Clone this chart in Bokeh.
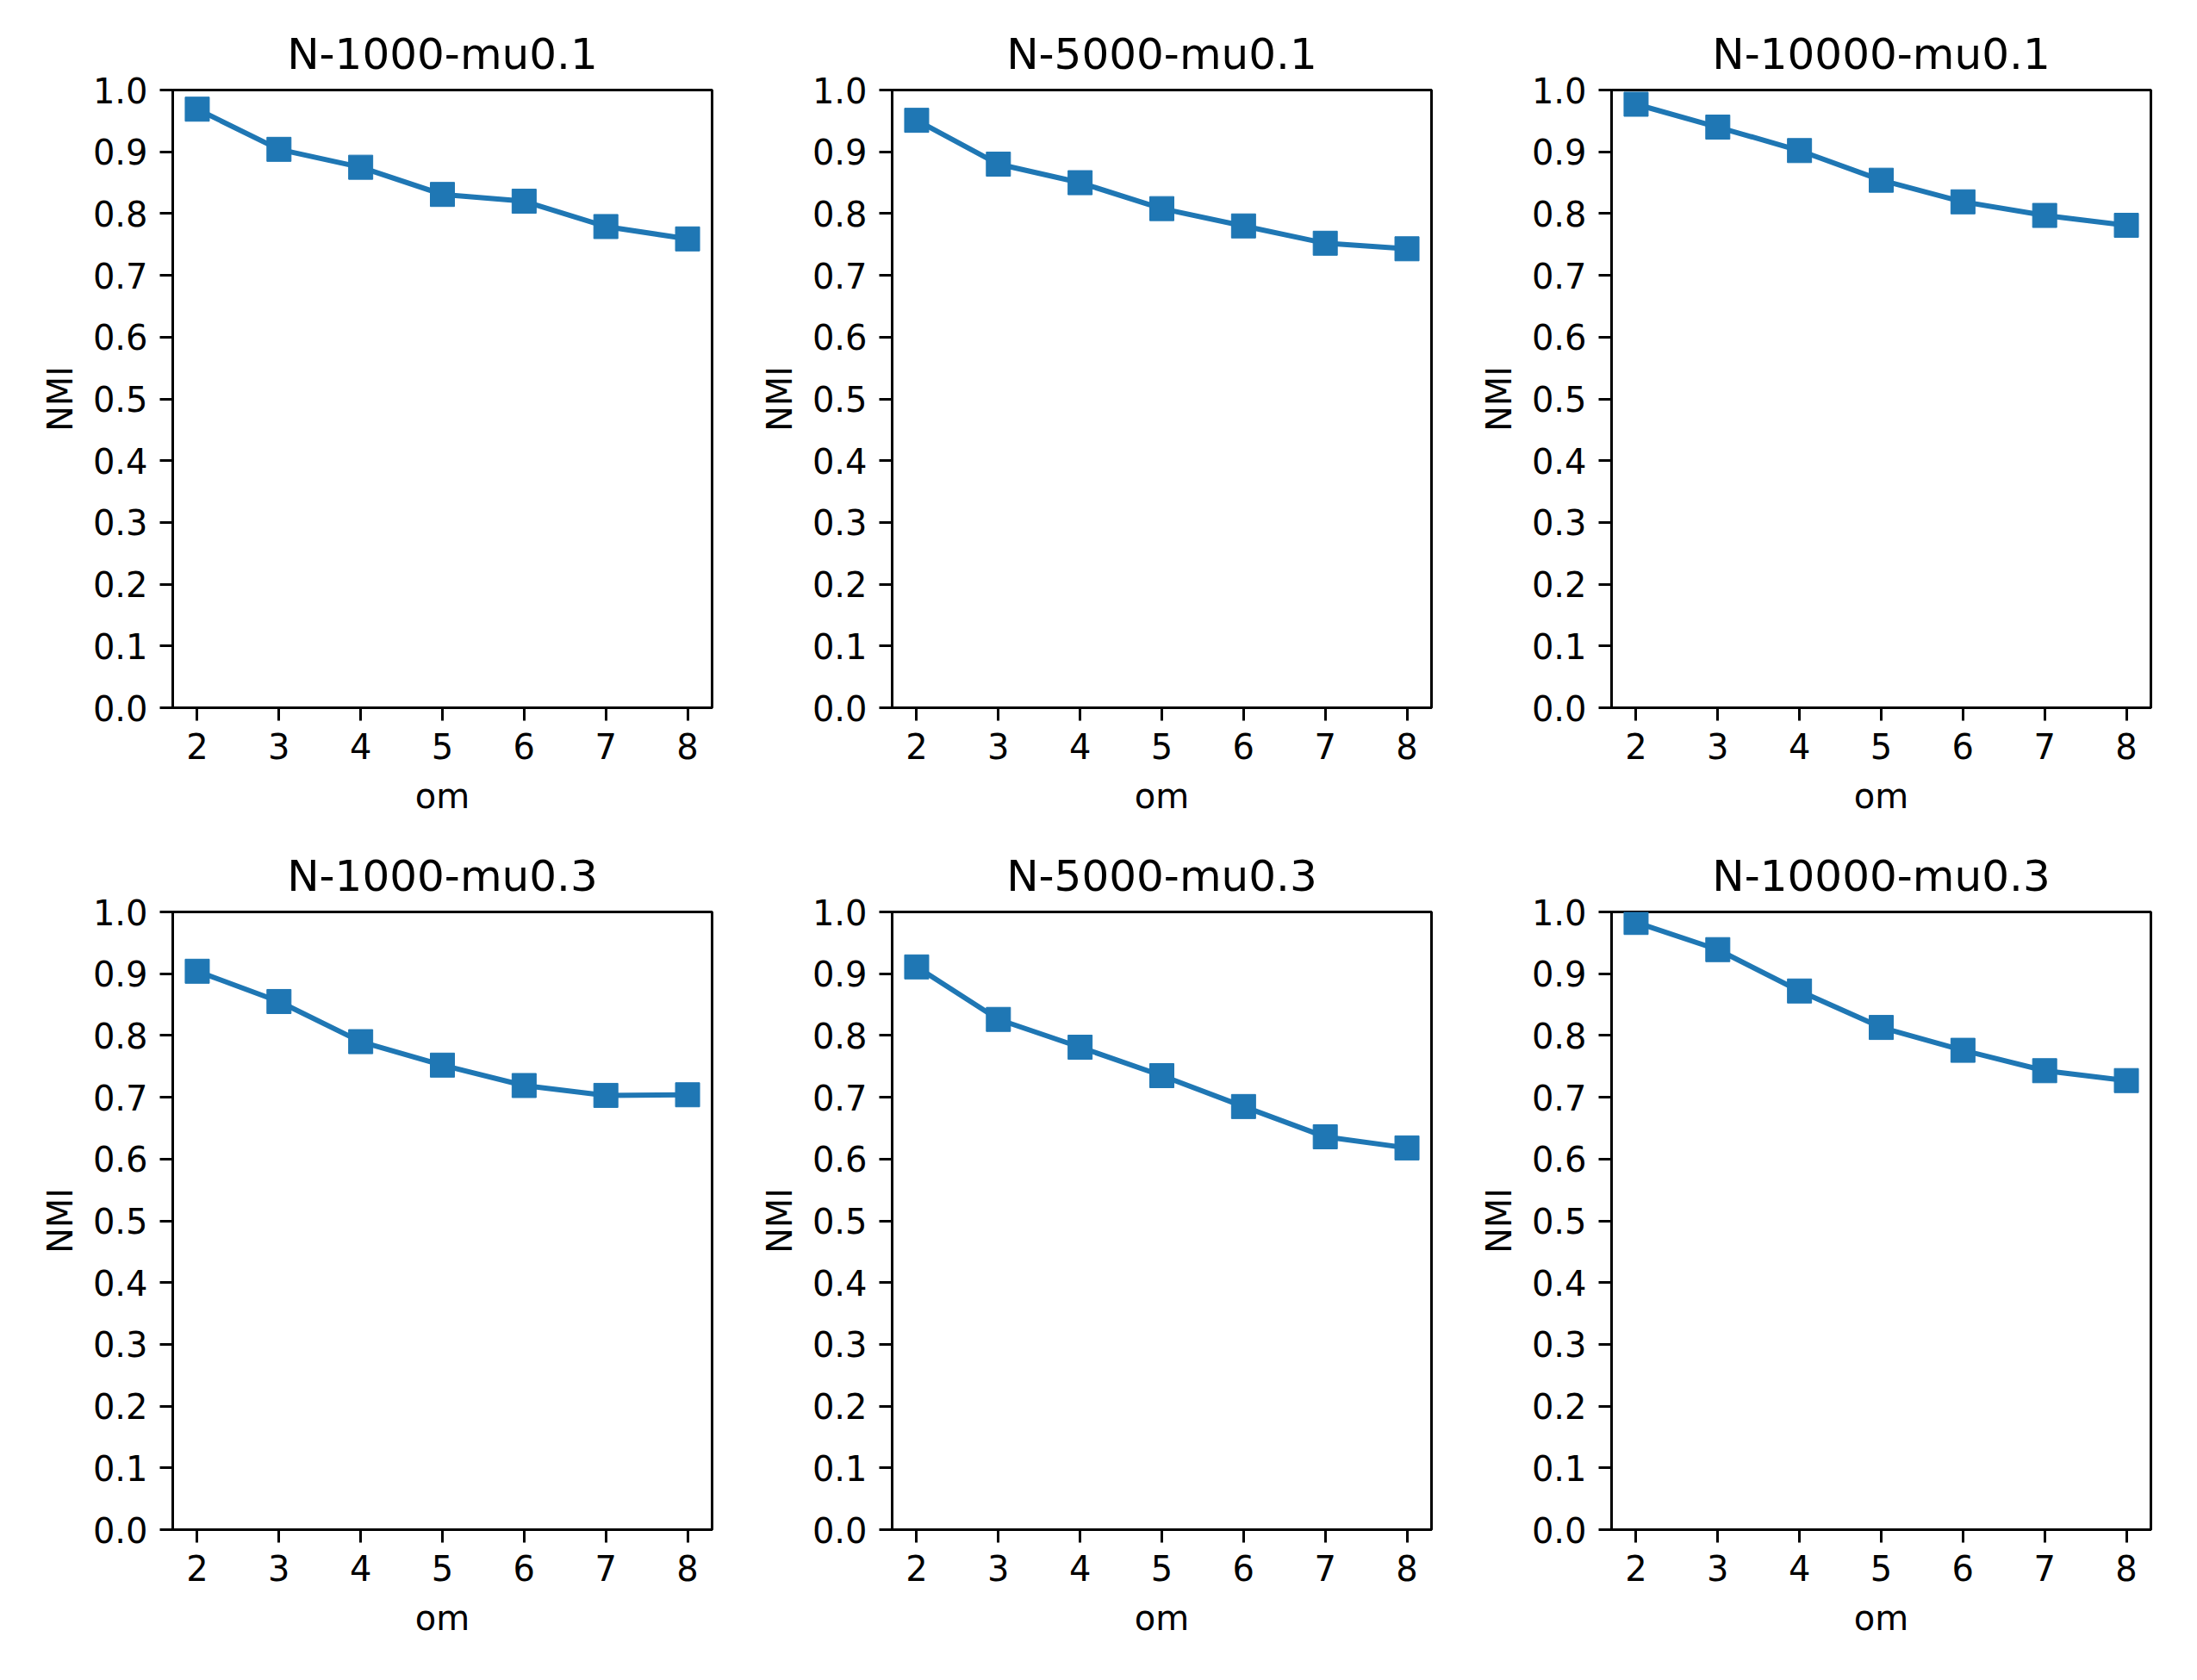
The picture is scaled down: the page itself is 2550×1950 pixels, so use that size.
from bokeh.plotting import figure
from bokeh.layouts import column, row
from bokeh.models import FixedTicker, Range1d, PrintfTickFormatter
from bokeh.embed import file_html
from bokeh.resources import INLINE

om = [2, 3, 4, 5, 6, 7, 8]
titles = ["N-1000-mu0.1", "N-5000-mu0.1", "N-10000-mu0.1",
          "N-1000-mu0.3", "N-5000-mu0.3", "N-10000-mu0.3"]
nmi_1000_mu01 = [0.969, 0.904, 0.875, 0.831, 0.820, 0.779, 0.759]
nmi_5000_mu01 = [0.951, 0.880, 0.850, 0.808, 0.780, 0.752, 0.743]
nmi_10000_mu01 = [0.977, 0.940, 0.902, 0.854, 0.819, 0.797, 0.781]
nmi_1000_mu03 = [0.904, 0.855, 0.790, 0.752, 0.719, 0.703, 0.704]
nmi_5000_mu03 = [0.911, 0.826, 0.781, 0.735, 0.685, 0.636, 0.618]
nmi_10000_mu03 = [0.983, 0.939, 0.872, 0.813, 0.776, 0.743, 0.727]
series = [nmi_1000_mu01, nmi_5000_mu01, nmi_10000_mu01,
          nmi_1000_mu03, nmi_5000_mu03, nmi_10000_mu03]
y_ticks = [0.0, 0.1, 0.2, 0.3, 0.4, 0.5, 0.6, 0.7, 0.8, 0.9, 1.0]

FONT = "DejaVu Sans"
COLOR = "#1f77b4"

CELL_W, CELL_H = 835, 954
FRAME_W, FRAME_H = 626, 717
LEFT, TOP = 200, 104


def make(title, ys):
    p = figure(width=CELL_W, height=CELL_H, output_backend="svg",
               toolbar_location=None, tools="",
               x_range=Range1d(1.7, 8.3), y_range=Range1d(0, 1))
    p.frame_width = FRAME_W
    p.frame_height = FRAME_H
    p.min_border_left = LEFT
    p.min_border_right = CELL_W - LEFT - FRAME_W
    p.min_border_top = TOP
    p.min_border_bottom = CELL_H - TOP - FRAME_H
    p.title.text = title
    p.title.align = "center"
    p.title.text_font = FONT
    p.title.text_font_size = "50px"
    p.title.text_font_style = "normal"
    p.title.text_color = "black"
    p.title.standoff = 26
    p.grid.visible = False
    p.outline_line_color = "black"
    p.outline_line_width = 3
    p.outline_line_alpha = 1
    p.background_fill_color = "white"
    p.border_fill_color = "white"

    p.line(om, ys, line_color=COLOR, line_width=6)
    p.scatter(om, ys, marker="square", size=28, fill_color=COLOR, line_color=COLOR)

    for ax in (p.xaxis[0], p.yaxis[0]):
        ax.axis_line_color = "black"
        ax.axis_line_width = 3
        ax.major_tick_line_color = "black"
        ax.major_tick_line_width = 3
        ax.major_tick_out = 15
        ax.major_tick_in = 0
        ax.minor_tick_line_color = None
        ax.major_label_text_font = FONT
        ax.major_label_text_font_size = "40px"
        ax.major_label_text_color = "black"
        ax.axis_label_text_font = FONT
        ax.axis_label_text_font_size = "40px"
        ax.axis_label_text_font_style = "normal"
        ax.axis_label_text_color = "black"
        ax.major_label_standoff = 14

    p.xaxis.axis_label_standoff = 17
    p.yaxis.axis_label_standoff = 12
    p.xaxis.ticker = FixedTicker(ticks=om)
    p.xaxis.axis_label = "om"
    p.yaxis.ticker = FixedTicker(ticks=y_ticks)
    p.yaxis.formatter = PrintfTickFormatter(format="%.1f")
    p.yaxis.axis_label = "NMI"
    return p


figs = [make(t, s) for t, s in zip(titles, series)]
layout = column(row(*figs[:3]), row(*figs[3:]))

open("out.html", "w").write(file_html(layout, INLINE))
